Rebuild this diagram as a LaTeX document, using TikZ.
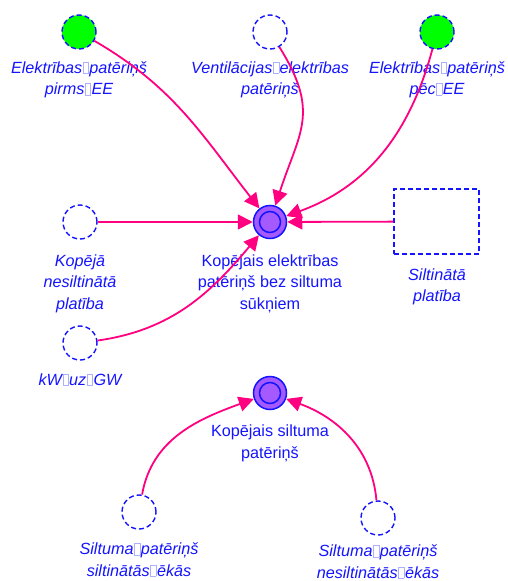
\documentclass[tikz,border=0pt]{standalone}
\usepackage{fontspec}
\setmainfont{Liberation Sans}
\usetikzlibrary{arrows.meta}
\definecolor{txt}{RGB}{20,20,255}
\definecolor{lnk}{RGB}{255,0,128}
\definecolor{gn}{RGB}{0,255,0}
\definecolor{pur}{RGB}{165,90,255}
\definecolor{gapc}{RGB}{175,175,255}
% placeholder glyph printed for the missing space character
\newcommand\gp{\hspace{0.6pt}{\color{gapc}\fboxsep=0pt\fboxrule=0.5pt\fbox{\rule{0pt}{11pt}\hspace{5pt}}}\hspace{0.6pt}}
\begin{document}
\begin{tikzpicture}[x=1pt,y=-1pt,
  aux/.style={circle, draw=txt, line width=1.4pt, dash pattern=on 5pt off 3pt,
              minimum size=34pt, inner sep=0pt},
  src/.style={aux, fill=gn},
  conv/.style={circle, draw=txt, line width=1.5pt, fill=pur, minimum size=33pt, inner sep=0pt,
               path picture={\draw[txt,line width=1.5pt] (path picture bounding box.center) circle (10.5pt);}},
  stockbox/.style={draw=txt, line width=1.4pt, dash pattern=on 5pt off 3pt,
                   minimum width=85pt, minimum height=65pt, inner sep=0pt},
  lbl/.style={font=\fontsize{16.2}{21.5}\selectfont, text=txt, align=center, inner sep=0pt, anchor=base},
  ital/.style={lbl, font=\fontsize{16.2}{21.5}\selectfont\itshape},
  link/.style={draw=lnk, line width=1.8pt, -{Triangle[length=15pt,width=15pt]}}
]
\useasboundingbox (0,0) rectangle (507,581);

% variables
\node[src]  (ea) at (79,32)  {};
\node[aux]  (ve) at (270,32) {};
\node[src]  (ep) at (437,32) {};
\node[conv] (ke) at (270,222) {};
\node[aux]  (np) at (80,222) {};
\node[aux]  (kw) at (80,343) {};
\node[stockbox] (sp) at (436.5,221.5) {};
\node[conv] (ks) at (270,393) {};
\node[aux]  (ss) at (139,512) {};
\node[aux]  (sn) at (378,518) {};

% labels (anchored on the baseline of the last line)
\node[ital] (eaL) at (79,94.5)  {Elektrības\gp patēriņš\\pirms\gp EE};
\node[ital] (veL) at (270,94.5) {Ventilācijas\gp elektrības\\patēriņš};
\node[ital] (epL) at (437,94.5) {Elektrības\gp patēriņš\\pēc\gp EE};
\node[lbl]  (keL) at (270,309) {Kopējais elektrības\\patēriņš bez siltuma\\sūkņiem};
\node[ital] (npL) at (80,309) {Kopējā\\nesiltinātā\\platība};
\node[ital] (spL) at (437,301.5) {Siltinātā\\platība};
\node[ital] (kwL) at (80,385) {kW\gp uz\gp GW};
\node[lbl]  (ksL) at (270,458) {Kopējais siltuma\\patēriņš};
\node[ital] (ssL) at (139,576) {Siltuma\gp patēriņš\\siltinātās\gp ēkās};
\node[ital] (snL) at (378,578) {Siltuma\gp patēriņš\\nesiltinātās\gp ēkās};

% links
\draw[link] (ea) to[out=-30,in=128] (ke);
\draw[link] (ve) to[out=-58,in=72,looseness=1.25] (ke);
\draw[link] (ep) to[out=-105,in=20] (ke);
\draw[link] (np) -- (ke);
\draw[link] (sp) -- (ke);
\draw[link] (kw) to[out=8,in=-130] (ke);
\draw[link] (ss) to[out=80,in=200] (ks);
\draw[link] (sn) to[out=95,in=-20] (ks);
\end{tikzpicture}
\end{document}
